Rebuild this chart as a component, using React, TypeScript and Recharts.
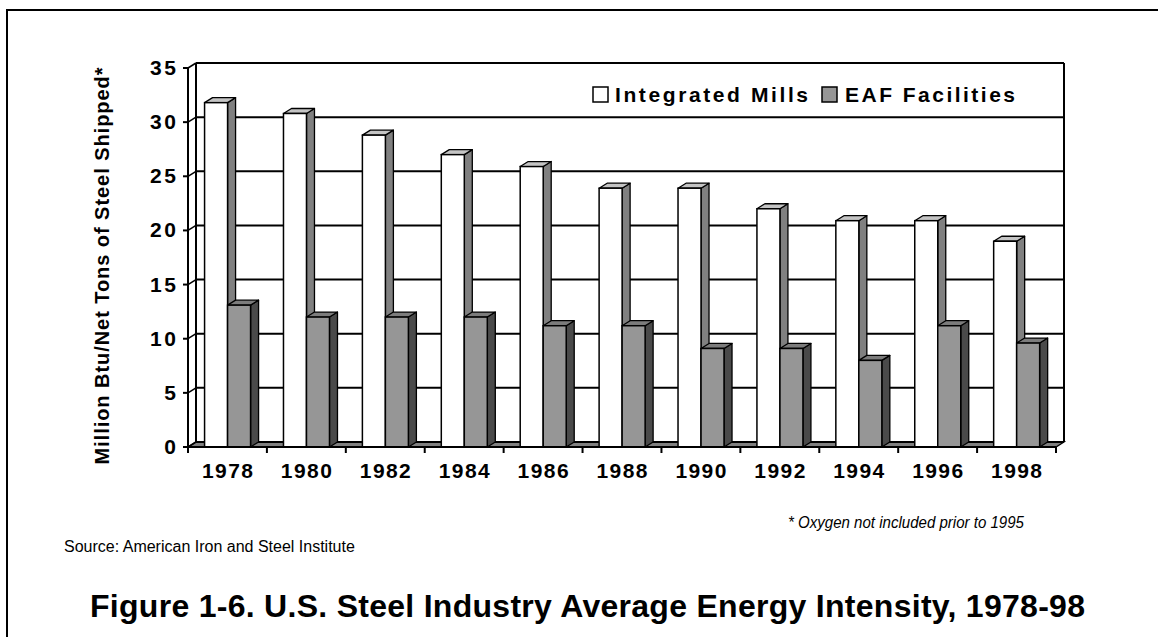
import React from 'react';
import { BarChart, Bar, XAxis, YAxis, CartesianGrid } from 'recharts';

const years = ['1978', '1980', '1982', '1984', '1986', '1988', '1990', '1992', '1994', '1996', '1998'];
const integratedMills = [31.8, 30.8, 28.8, 27.0, 25.9, 23.9, 23.9, 22.0, 20.9, 20.9, 19.0];
const eafFacilities = [13.1, 12.0, 12.0, 12.0, 11.2, 11.2, 9.1, 9.1, 8.0, 11.2, 9.6];
const yTicks = [0, 5, 10, 15, 20, 25, 30, 35];

const seriesNames = ['Integrated Mills', 'EAF Facilities'];
const FONT = '"Liberation Sans", Arial, Helvetica, sans-serif';
const DX = 8;
const DY = 5;
const STYLE_INT = { front: '#ffffff', top: '#c4c4c4', side: '#808080' };
const STYLE_EAF = { front: '#969696', top: '#7c7c7c', side: '#4a4a4a' };

const data = years.map((year, i) => ({
  year,
  integrated: integratedMills[i],
  eaf: eafFacilities[i],
}));

const make3DBar = (c: { front: string; top: string; side: string }) => (props: any) => {
  const { x, y, width: w, height: h } = props;
  if (x == null || y == null || !w || h == null) return <g />;
  return (
    <g>
      <polygon
        points={`${x + w},${y} ${x + w + DX},${y - DY} ${x + w + DX},${y + h - DY} ${x + w},${y + h}`}
        fill={c.side}
        stroke="#000"
        strokeWidth={1.3}
        strokeLinejoin="round"
      />
      <polygon
        points={`${x},${y} ${x + DX},${y - DY} ${x + w + DX},${y - DY} ${x + w},${y}`}
        fill={c.top}
        stroke="#000"
        strokeWidth={1.3}
        strokeLinejoin="round"
      />
      <rect x={x} y={y} width={w} height={h} fill={c.front} stroke="#000" strokeWidth={1.5} />
    </g>
  );
};

const renderGridLine = (props: any) => {
  const { x1, x2, y1, index } = props;
  const top = typeof props.y === 'number' ? props.y : 68;
  const h = typeof props.height === 'number' ? props.height : 379;
  const bottom = top + h;
  return (
    <g key={`grid-${index}`}>
      {index === 0 && (
        <g>
          <polygon
            points={`${x1},${bottom} ${x1 + DX},${bottom - DY} ${x2 + DX},${bottom - DY} ${x2},${bottom}`}
            fill="#808080"
            stroke="#000"
            strokeWidth={1.3}
          />
          <line x1={x1 + DX} y1={top - DY} x2={x1 + DX} y2={bottom - DY} stroke="#000" strokeWidth={2} />
          <line x1={x2 + DX} y1={top - DY} x2={x2 + DX} y2={bottom - DY} stroke="#000" strokeWidth={2} />
        </g>
      )}
      <line x1={x1} y1={y1} x2={x1 + DX} y2={y1 - DY} stroke="#000" strokeWidth={1.5} />
      <line x1={x1 + DX} y1={y1 - DY} x2={x2 + DX} y2={y1 - DY} stroke="#000" strokeWidth={2} />
    </g>
  );
};

const XTick = (props: any) => {
  const { x, y, payload, index } = props;
  const half = payload && typeof payload.offset === 'number' && payload.offset > 0 ? payload.offset : 39.45;
  return (
    <g>
      <line x1={x - half} y1={y} x2={x - half} y2={y + 6} stroke="#000" strokeWidth={2} />
      {index === years.length - 1 && (
        <line x1={x + half} y1={y} x2={x + half} y2={y + 6} stroke="#000" strokeWidth={2} />
      )}
      <text
        x={x}
        y={y + 31}
        textAnchor="middle"
        fontFamily={FONT}
        fontWeight="bold"
        fontSize={21}
        fill="#000"
        textLength={51}
        lengthAdjust="spacing"
      >
        {payload.value}
      </text>
    </g>
  );
};

const YTick = (props: any) => {
  const { x, y, payload } = props;
  const s = String(payload.value);
  return (
    <text
      x={x}
      y={y + 7}
      textAnchor="end"
      fontFamily={FONT}
      fontWeight="bold"
      fontSize={21}
      fill="#000"
      textLength={13 * s.length}
      lengthAdjust="spacing"
    >
      {s}
    </text>
  );
};

export default function App() {
  return (
    <div
      style={{
        position: 'absolute',
        left: 0,
        top: 0,
        width: 1158,
        height: 637,
        overflow: 'hidden',
        background: '#fff',
        fontFamily: FONT,
      }}
    >
      <div
        style={{
          position: 'absolute',
          left: 6,
          top: 9,
          width: 1200,
          height: 700,
          border: '2px solid #000',
          boxSizing: 'border-box',
        }}
      />
      <div style={{ position: 'absolute', left: 0, top: 0 }}>
        <BarChart
          width={1158}
          height={637}
          data={data}
          margin={{ top: 68, left: 128, right: 102, bottom: 160 }}
          barCategoryGap="21%"
          barGap={0}
        >
          <CartesianGrid vertical={false} horizontal={renderGridLine} />
          <XAxis
            dataKey="year"
            height={30}
            interval={0}
            axisLine={{ stroke: '#000', strokeWidth: 2 }}
            tickLine={false}
            tickSize={0}
            tickMargin={0}
            tick={<XTick />}
          />
          <YAxis
            width={60}
            domain={[0, 35]}
            ticks={yTicks}
            interval={0}
            axisLine={{ stroke: '#000', strokeWidth: 2 }}
            tickLine={{ stroke: '#000', strokeWidth: 2 }}
            tickSize={5}
            tickMargin={7}
            tick={<YTick />}
          />
          <Bar dataKey="integrated" name={seriesNames[0]} isAnimationActive={false} shape={make3DBar(STYLE_INT)} />
          <Bar dataKey="eaf" name={seriesNames[1]} isAnimationActive={false} shape={make3DBar(STYLE_EAF)} />
        </BarChart>
      </div>
      <svg
        width={1158}
        height={637}
        style={{ position: 'absolute', left: 0, top: 0, pointerEvents: 'none' }}
      >
        <text
          transform="translate(109,266) rotate(-90)"
          textAnchor="middle"
          fontFamily={FONT}
          fontWeight="bold"
          fontSize={20}
          fill="#000"
          textLength={397}
          lengthAdjust="spacing"
        >
          Million Btu/Net Tons of Steel Shipped*
        </text>
        {/* legend */}
        <rect x={593} y={87} width={15} height={15} fill={STYLE_INT.front} stroke="#000" strokeWidth={1.5} />
        <text x={615} y={102} fontFamily={FONT} fontWeight="bold" fontSize={21} fill="#000" textLength={193} lengthAdjust="spacing">
          {seriesNames[0]}
        </text>
        <rect x={822} y={87} width={15} height={15} fill={STYLE_EAF.front} stroke="#000" strokeWidth={1.5} />
        <text x={845} y={102} fontFamily={FONT} fontWeight="bold" fontSize={21} fill="#000" textLength={170} lengthAdjust="spacing">
          {seriesNames[1]}
        </text>
        <text
          x={1024}
          y={528}
          textAnchor="end"
          fontFamily={FONT}
          fontStyle="italic"
          fontSize={17}
          fill="#000"
          textLength={236}
          lengthAdjust="spacingAndGlyphs"
        >
          * Oxygen not included prior to 1995
        </text>
        <text x={64} y={552} fontFamily={FONT} fontSize={16} fill="#000">
          Source: American Iron and Steel Institute
        </text>
        <text
          x={90}
          y={617}
          fontFamily={FONT}
          fontWeight="bold"
          fontSize={32}
          fill="#000"
          textLength={995}
          lengthAdjust="spacing"
        >
          Figure 1-6. U.S. Steel Industry Average Energy Intensity, 1978-98
        </text>
      </svg>
    </div>
  );
}
